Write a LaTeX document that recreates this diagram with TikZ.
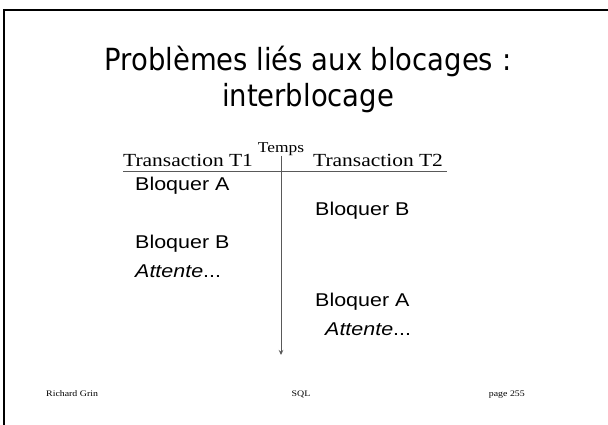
\documentclass[tikz,border=0pt]{standalone}
\usepackage{fontspec}
\usepackage{graphicx}
\usetikzlibrary{arrows.meta}
\setmainfont{Liberation Serif}
\setsansfont{Liberation Sans}
\newfontfamily\titlefont{DejaVu Sans Condensed}
\newcommand\sx[1]{\scalebox{1.16}[1]{#1}}
\tikzset{
  titletxt/.style={inner sep=0pt, font=\titlefont\fontsize{30.5}{36}\selectfont},
  serifhead/.style={inner sep=0pt, font=\rmfamily\fontsize{18.5}{22}\selectfont},
  steptxt/.style={inner sep=0pt, anchor=mid west, font=\sffamily\fontsize{18.5}{22}\selectfont},
  foot/.style={inner sep=0pt, font=\rmfamily\fontsize{8.5}{10}\selectfont},
  axisline/.style={draw=black!65, line width=1pt},
  frameline/.style={draw=black, line width=2pt}
}
\begin{document}
\begin{tikzpicture}[x=1pt,y=-1pt]
\useasboundingbox[fill=white] (0,0) rectangle (608,425);
% frame
\coordinate (fr1) at (608,10);
\coordinate (fr2) at (4,10);
\coordinate (fr3) at (4,425);
\draw[frameline] (fr1) -- (fr2) -- (fr3);
% title
\node[titletxt] (title1) at (308,61) {Problèmes liés aux blocages :};
\node[titletxt] (title2) at (308,98) {interblocage};
% headings
\node[serifhead, font=\rmfamily\fontsize{15}{18}\selectfont, anchor=mid] (temps) at (281,150) {\sx{Temps}};
\node[serifhead, anchor=mid west] (t1) at (123,164) {\sx{Transaction T1}};
\node[serifhead, anchor=mid west] (t2) at (313,164) {\sx{Transaction T2}};
\coordinate (hl) at (123,172);
\coordinate (hr) at (447,172);
\draw[axisline] (hl) -- (hr);
\coordinate (vt) at (281,156);
\coordinate (vb) at (281,355);
\draw[axisline, -{Stealth[length=5pt,width=4.5pt]}] (vt) -- (vb);
% steps
\node[steptxt] (s1) at (135,188) {\sx{Bloquer A}};
\node[steptxt] (s2) at (315,213) {\sx{Bloquer B}};
\node[steptxt] (s3) at (135,246) {\sx{Bloquer B}};
\node[steptxt] (s4) at (135,275) {\sx{\textit{Attente}...}};
\node[steptxt] (s5) at (315,304) {\sx{Bloquer A}};
\node[steptxt] (s6) at (325,333) {\sx{\textit{Attente}...}};
% footer
\node[foot, anchor=mid west] (f1) at (46,394) {\sx{Richard Grin}};
\node[foot, anchor=mid] (f2) at (301,394) {\sx{SQL}};
\node[foot, anchor=mid east] (f3) at (525,394) {\sx{page 255}};
\end{tikzpicture}
\end{document}
